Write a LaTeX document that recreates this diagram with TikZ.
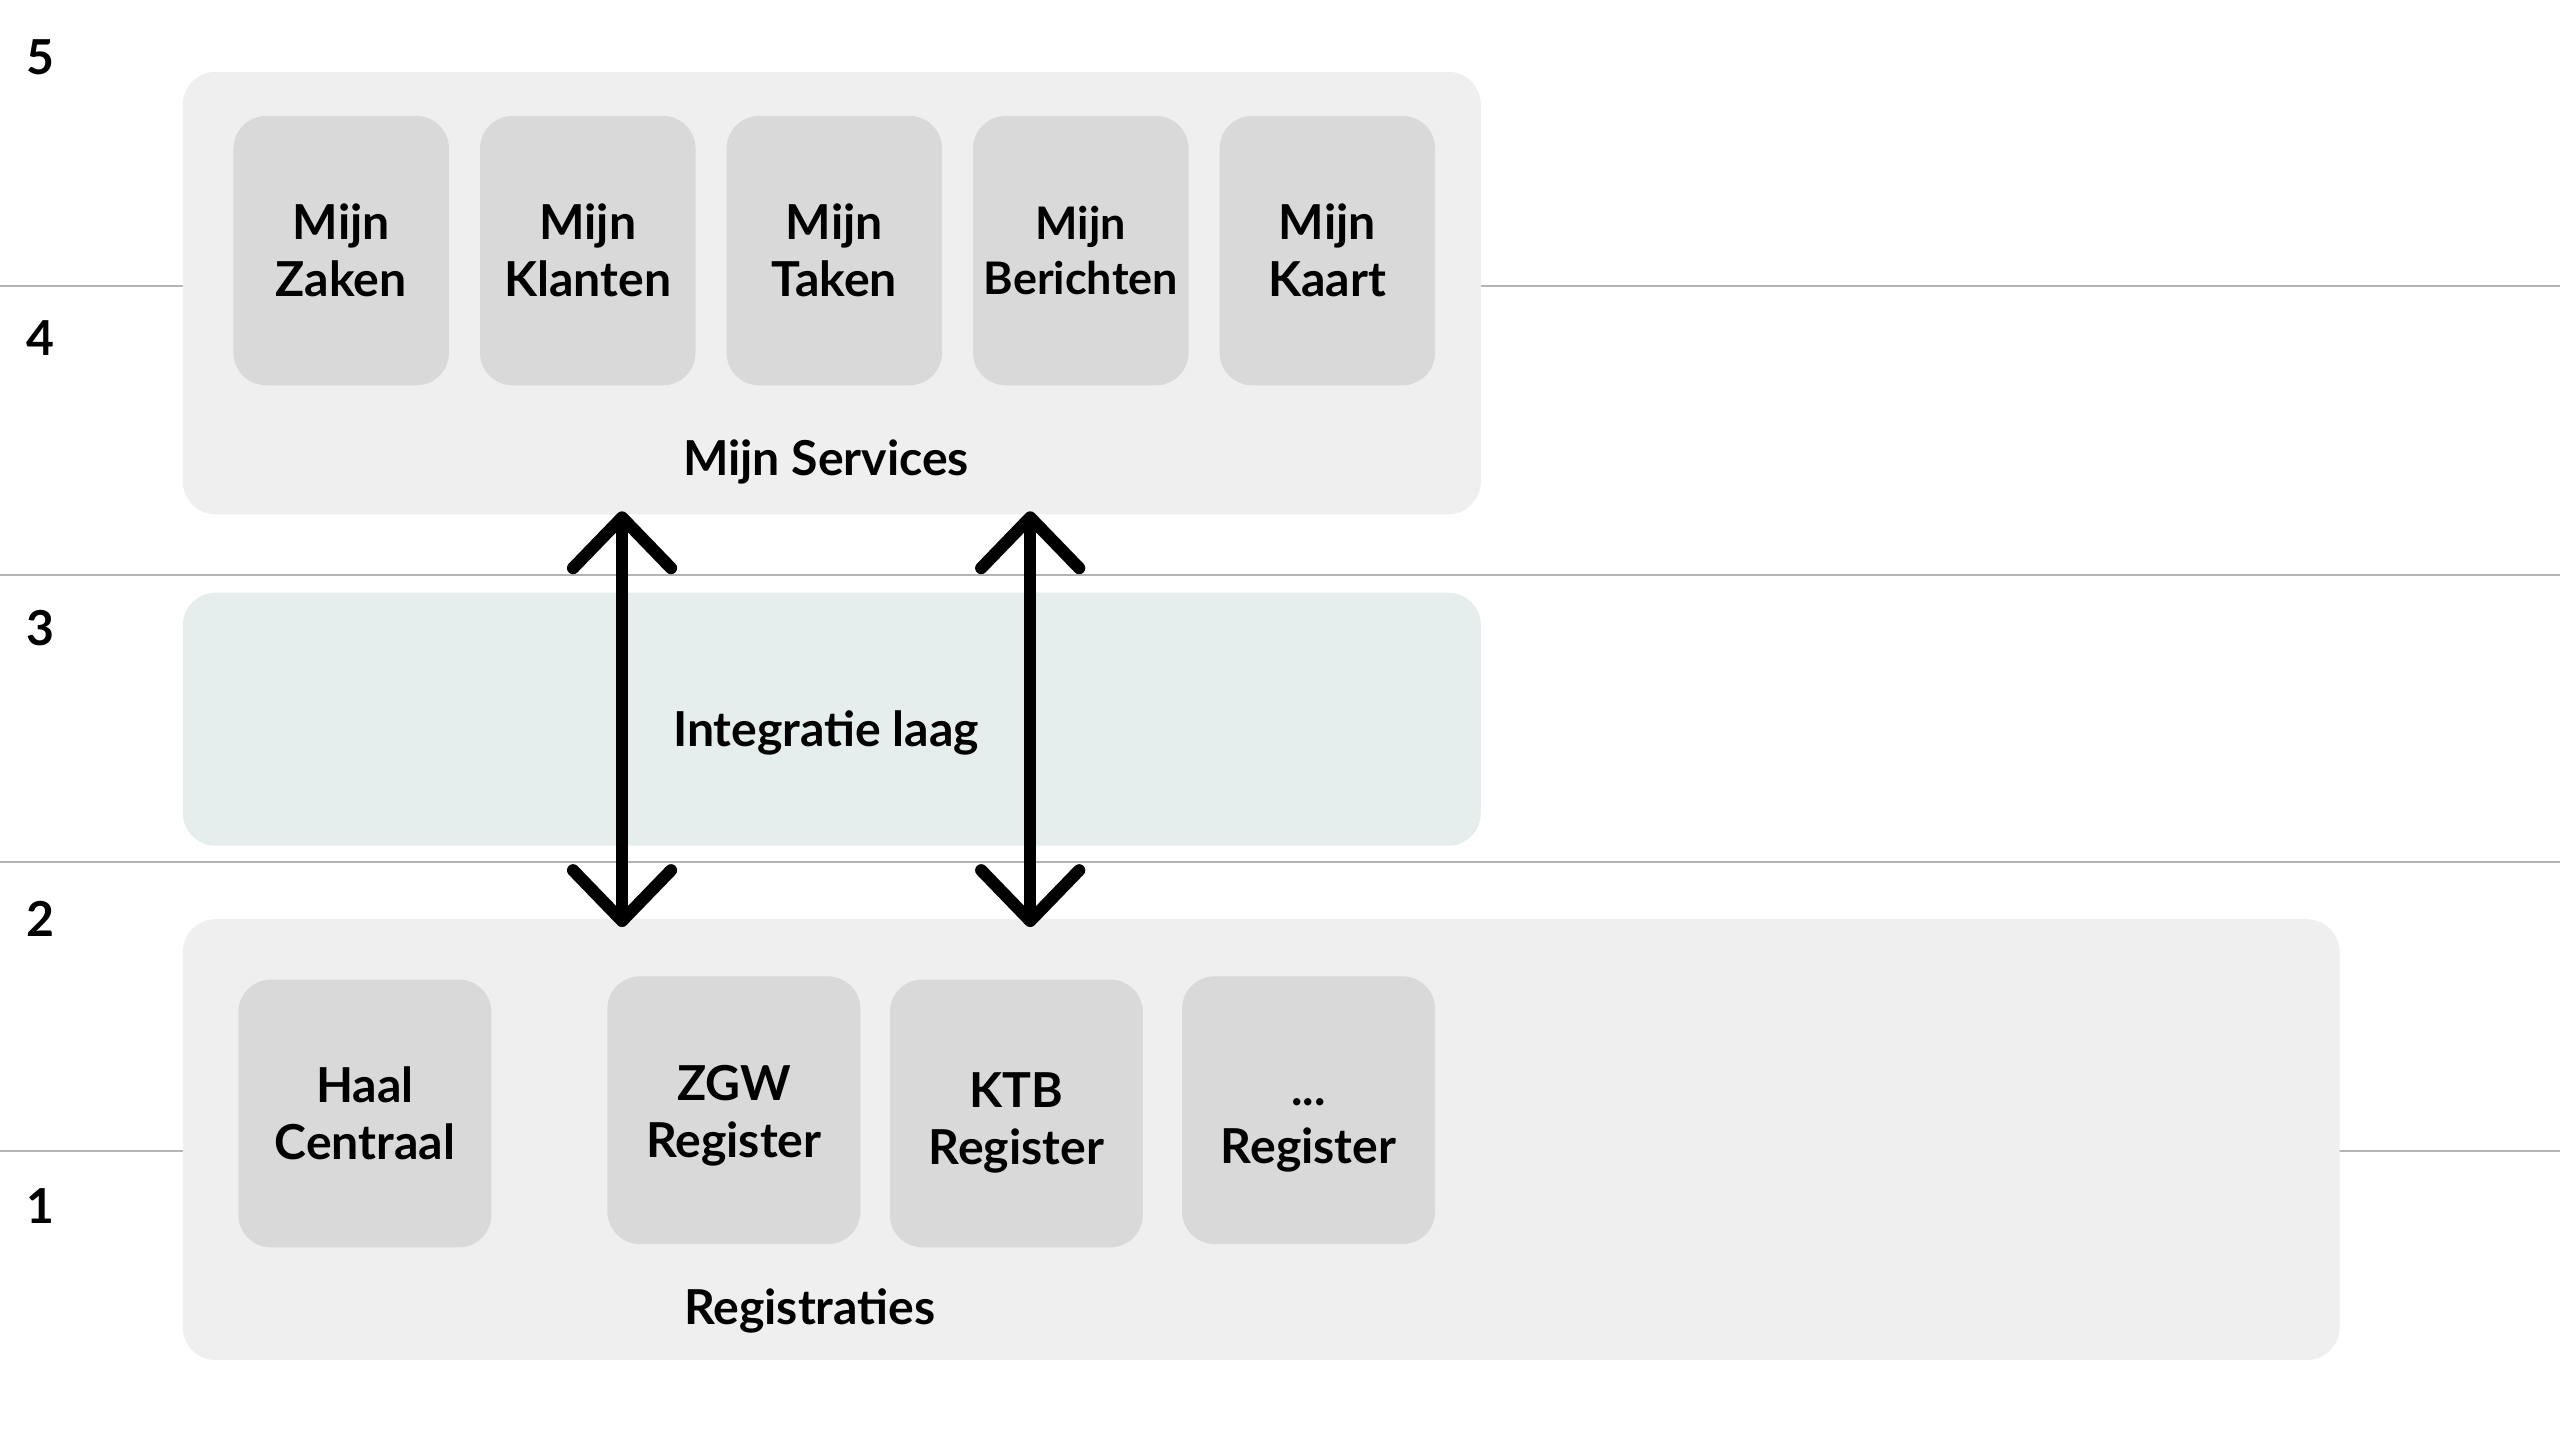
\documentclass[tikz,border=0pt]{standalone}
\usepackage{fontspec}
\setmainfont{Lato}
\usepackage{xcolor}
\usepackage{tikz}
\usetikzlibrary{arrows.meta,positioning}

\definecolor{laaggrijs}{HTML}{EFEFEF}
\definecolor{blokgrijs}{HTML}{D9D9D9}
\definecolor{integratie}{HTML}{E6EEED}
\definecolor{lijngrijs}{HTML}{B4B4B4}
\newcommand{\labeltekst}{\fontsize{29.5pt}{35pt}\selectfont\bfseries}
\newcommand{\kleintekst}{\fontsize{27.5pt}{34pt}\selectfont\bfseries}
\newcommand{\omlaag}[1]{\rule{0pt}{#1}}

\tikzset{
  laag/.style={draw=none, rounded corners=20pt, inner sep=0pt},
  blok/.style={draw=none, fill=blokgrijs, rounded corners=20pt, inner sep=0pt,
               minimum height=164pt, align=center, font=\labeltekst},
  tekst/.style={inner sep=0pt, font=\labeltekst},
  scheiding/.style={draw=lijngrijs, line width=1.2pt},
  pijl/.style={line width=7.5pt, line cap=round, shorten <=-2pt, shorten >=-5pt,
               {Straight Barb[length=31pt,width=60pt,round]}-{Straight Barb[length=31pt,width=60pt,round]}}
}

\begin{document}
\begin{tikzpicture}[x=1pt,y=-1pt,node distance=151pt,on grid]
    \useasboundingbox (0,0) rectangle (1568,882);
    % niveaus
    \foreach \y in {175,352,528,705}
        \draw[scheiding] (0,\y) -- (1568,\y);
    \node[tekst] (n5) at (25,35) {5};
    \node[tekst] (n4) at (25,207) {4};
    \node[tekst] (n3) at (25,385) {3};
    \node[tekst] (n2) at (25,563) {2};
    \node[tekst] (n1) at (25,739) {1};

    % lagen
    \node[laag, fill=laaggrijs, minimum width=795pt, minimum height=271pt] (services) at (509.5,179.5) {};
    \node[laag, fill=integratie, minimum width=795pt, minimum height=155pt] (integratie) at (509.5,440.5) {};
    \node[laag, fill=laaggrijs, minimum width=1321pt, minimum height=270pt] (registraties) at (772.5,698) {};

    % mijn services
    \node[blok, minimum width=132pt, minimum height=165pt] (zaken) at (209,153.5) {Mijn\\Zaken};
    \node[blok, minimum width=132pt, minimum height=165pt] (klanten) [right=of zaken] {Mijn\\Klanten};
    \node[blok, minimum width=132pt, minimum height=165pt] (taken) [right=of klanten] {Mijn\\Taken};
    \node[blok, minimum width=132pt, minimum height=165pt, font=\kleintekst] (berichten) [right=of taken] {Mijn\\Berichten};
    \node[blok, minimum width=132pt, minimum height=165pt] (kaart) [right=of berichten] {Mijn\\Kaart};
    \node[tekst] (servicestekst) at (506,283) {Mijn Services};

    \node[tekst] (integratietekst) at (506,449) {Integratie laag};

    % registraties
    \node[blok, minimum width=155pt] (haal) at (223.5,682) {Haal\\Centraal};
    \node[blok, minimum width=155pt] (zgw) [above right=2pt and 226pt of haal] {\omlaag{28pt}ZGW\\Register};
    \node[blok, minimum width=155pt] (ktb) [below right=2pt and 173pt of zgw] {\omlaag{33pt}KTB\\Register};
    \node[blok, minimum width=155pt] (overig) [above right=2pt and 179pt of ktb] {\omlaag{35pt}...\\Register};
    \node[tekst] (registratietekst) at (496,803) {Registraties};

    % koppelingen
    \coordinate (p1) at (381,0);
    \coordinate (p2) at (631,0);
    \draw[pijl] (p1 |- services.south) -- (p1 |- registraties.north);
    \draw[pijl] (p2 |- services.south) -- (p2 |- registraties.north);
\end{tikzpicture}
\end{document}
